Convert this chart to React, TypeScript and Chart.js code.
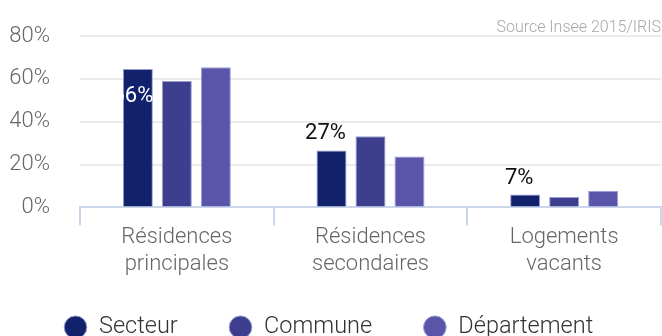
import React, { useEffect, useRef } from 'react';
import { Chart, registerables } from 'chart.js';

Chart.register(...registerables);

const categories = [
  ['Résidences', 'principales'],
  ['Résidences', 'secondaires'],
  ['Logements', 'vacants'],
];
const secteur = [64.6, 26.6, 6.0];
const commune = [59.0, 33.2, 4.9];
const departement = [65.4, 23.8, 7.7];
const secteurLabels = ['66%', '27%', '7%'];
const seriesNames = ['Secteur', 'Commune', 'Département'];
const seriesColors = ['#12216b', '#3e3e8e', '#5a55a9'];
const yTickValues = [0, 20, 40, 60, 80];
const sourceText = 'Source Insee 2015/IRIS';

const labelPlugin = {
  id: 'secteurLabels',
  afterDatasetsDraw(chart: any) {
    const meta = chart.getDatasetMeta(0);
    const ctx = chart.ctx;
    ctx.save();
    ctx.font = '400 22px Roboto';
    ctx.textAlign = 'center';
    ctx.textBaseline = 'alphabetic';
    meta.data.forEach((bar: any, i: number) => {
      const inside = secteur[i] > 50;
      const x = bar.x - 6;
      if (inside) {
        ctx.fillStyle = '#ffffff';
        ctx.fillText(secteurLabels[i], x + 1, bar.y + 33);
      } else {
        ctx.fillStyle = '#111111';
        ctx.fillText(secteurLabels[i], x, bar.y - 11);
      }
    });
    ctx.restore();
  },
};

const sourcePlugin = {
  id: 'sourceText',
  afterDraw(chart: any) {
    const ctx = chart.ctx;
    ctx.save();
    ctx.font = '300 16px Roboto';
    ctx.fillStyle = '#a8a8a8';
    ctx.textAlign = 'right';
    ctx.textBaseline = 'alphabetic';
    ctx.fillText(sourceText, chart.chartArea.right, 32);
    ctx.restore();
  },
};

const legendShiftPlugin = {
  id: 'legendShift',
  afterLayout(chart: any) {
    const lg = chart.legend;
    if (!lg) return;
    lg.top -= 13;
    lg.bottom -= 13;
    lg.left -= 7;
    lg.right -= 7;
  },
};

export default function App() {
  const ref = useRef<HTMLCanvasElement | null>(null);
  useEffect(() => {
    if (!ref.current) return;
    const values = [secteur, commune, departement];
    const chart = new Chart(ref.current, {
      type: 'bar',
      data: {
        labels: categories,
        datasets: seriesNames.map((name, i) => ({
          label: name,
          data: values[i],
          backgroundColor: seriesColors[i],
          borderColor: '#9a9ed6',
          borderWidth: 1,
          categoryPercentage: 0.604,
          barPercentage: 0.77,
        })),
      },
      options: {
        responsive: false,
        animation: false,
        layout: { padding: { top: 36, left: 10, right: 1, bottom: 0 } },
        plugins: {
          tooltip: { enabled: false },
          legend: {
            position: 'bottom',
            labels: {
              usePointStyle: true,
              pointStyle: 'circle',
              boxHeight: 16,
              boxWidth: 24,
              padding: 51,
              color: '#333333',
              font: { family: 'Roboto', size: 23.5, weight: '300' },
            },
          },
        },
        scales: {
          x: {
            afterFit: (axis: any) => {
              axis.paddingLeft = 0;
              axis.paddingRight = 0;
            },
            grid: {
              offset: true,
              drawOnChartArea: false,
              drawTicks: true,
              tickLength: 18,
              color: '#ccd6eb',
              lineWidth: 2,
            },
            border: { color: '#ccd6eb', width: 2 },
            ticks: {
              color: '#666666',
              padding: -1,
              font: { family: 'Roboto', size: 22, weight: '300', lineHeight: 1.23 },
            },
          },
          y: {
            min: 0,
            max: 80,
            afterBuildTicks: (axis: any) => {
              axis.ticks = yTickValues.map((v) => ({ value: v }));
            },
            afterFit: (axis: any) => {
              axis.width = 70;
              axis.paddingTop = 0;
              axis.paddingBottom = 0;
            },
            grid: { color: '#ebebeb', lineWidth: 2, drawTicks: false },
            border: { display: false },
            ticks: {
              color: '#666666',
              padding: 30,
              font: { family: 'Roboto', size: 22, weight: '300' },
              callback: (v: any) => v + '%',
            },
          },
        },
      },
      plugins: [labelPlugin, sourcePlugin, legendShiftPlugin],
    });
    return () => chart.destroy();
  }, []);
  return (
    <div style={{ position: 'absolute', left: 0, top: 0, width: 662, height: 362 }}>
      <canvas ref={ref} width={662} height={362} style={{ display: 'block' }} />
    </div>
  );
}
